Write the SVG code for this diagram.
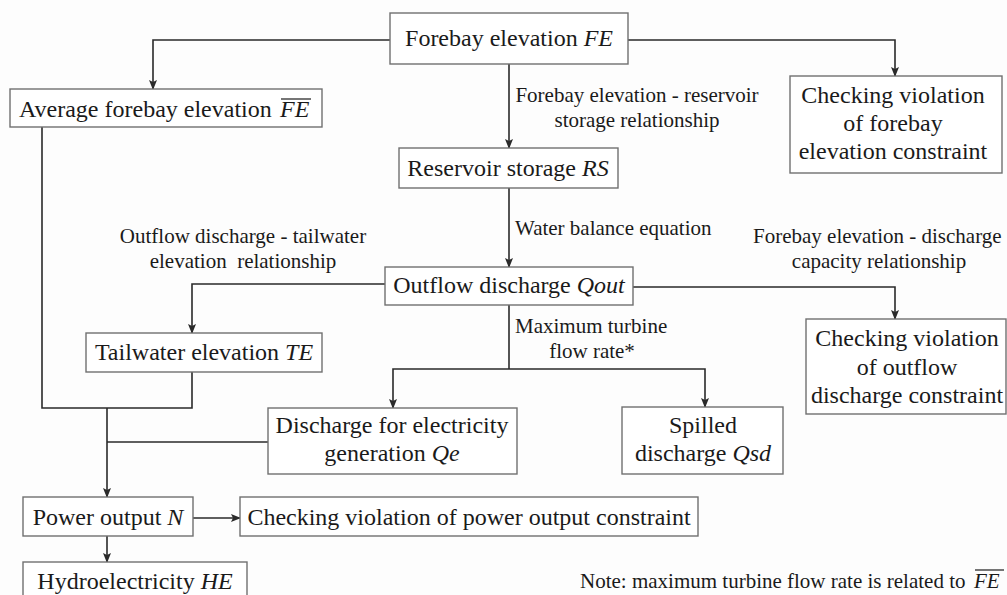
<svg xmlns="http://www.w3.org/2000/svg" width="1007" height="595" viewBox="0 0 1007 595">
<defs>
<marker id="ah" markerWidth="10" markerHeight="10" refX="9" refY="5" orient="auto" markerUnits="userSpaceOnUse">
<path d="M0,1 L10,5 L0,9 L2,5 z" fill="#2a2a2a"/>
</marker>
<style>
.box{fill:#fff;stroke:#707070;stroke-width:1.4}
.t{font-family:"Liberation Serif","Times New Roman",serif;font-size:24px;fill:#1a1a1a}
.l{font-family:"Liberation Serif","Times New Roman",serif;font-size:21px;fill:#1a1a1a}
.i{font-style:italic}
.c{stroke:#2a2a2a;stroke-width:1.6;fill:none}
.a{marker-end:url(#ah)}
.ob{stroke:#1a1a1a;stroke-width:1.2}
</style>
</defs>
<rect width="1007" height="595" fill="#fdfdfd"/>
<g id="connectors">
<polyline class="c a" points="390,40 153,40 153,89"/>
<polyline class="c a" points="628,40 895,40 895,76"/>
<line class="c a" x1="509" y1="64" x2="509" y2="148"/>
<line class="c a" x1="509" y1="188" x2="509" y2="267"/>
<polyline class="c a" points="385,284 192,284 192,333"/>
<polyline class="c a" points="633,287 895,287 895,319"/>
<line class="c" x1="509" y1="305" x2="509" y2="369"/>
<polyline class="c a" points="509,369 393,369 393,408"/>
<polyline class="c a" points="509,369 705,369 705,407"/>
<polyline class="c" points="42,127 42,408 192,408 192,372"/>
<line class="c a" x1="107" y1="408" x2="107" y2="497"/>
<line class="c" x1="268" y1="442" x2="107" y2="442"/>
<line class="c a" x1="193" y1="518" x2="240" y2="518"/>
<line class="c a" x1="107" y1="536" x2="107" y2="562"/>
</g>
<g id="labels">
<text class="l" x="637" y="102" text-anchor="middle">Forebay elevation - reservoir</text>
<text class="l" x="637" y="127" text-anchor="middle">storage relationship</text>
<text class="l" x="515" y="235">Water balance equation</text>
<text class="l" x="243" y="243" text-anchor="middle">Outflow discharge - tailwater</text>
<text class="l" x="243" y="268" text-anchor="middle" xml:space="preserve">elevation  relationship</text>
<text class="l" x="753" y="243">Forebay elevation - discharge</text>
<text class="l" x="879" y="268" text-anchor="middle">capacity relationship</text>
<text class="l" x="515" y="333">Maximum turbine</text>
<text class="l" x="592" y="358" text-anchor="middle">flow rate*</text>
<text class="l" x="580" y="588">Note: maximum turbine flow rate is related to</text>
<text class="l i" x="974" y="588">FE</text>
<line class="ob" x1="975" y1="570" x2="1004" y2="570"/>
</g>
<g id="n-fe">
<rect class="box" x="390" y="13" width="238" height="51"/>
<text class="t" x="509" y="46" text-anchor="middle">Forebay elevation <tspan class="i">FE</tspan></text>
</g>
<g id="n-avgfe">
<rect class="box" x="10" y="89" width="312" height="38"/>
<text class="t" x="19" y="117">Average forebay elevation</text>
<text class="t i" x="280" y="117">FE</text>
<line class="ob" x1="281" y1="99" x2="311" y2="99"/>
</g>
<g id="n-checkfe">
<rect class="box" x="790" y="76" width="212" height="97"/>
<text class="t" x="893" y="103" text-anchor="middle">Checking violation</text>
<text class="t" x="893" y="131" text-anchor="middle">of forebay</text>
<text class="t" x="893" y="159" text-anchor="middle">elevation constraint</text>
</g>
<g id="n-rs">
<rect class="box" x="399" y="148" width="219" height="40"/>
<text class="t" x="508" y="176" text-anchor="middle">Reservoir storage <tspan class="i">RS</tspan></text>
</g>
<g id="n-qout">
<rect class="box" x="385" y="267" width="248" height="38"/>
<text class="t" x="509" y="293" text-anchor="middle">Outflow discharge <tspan class="i">Qout</tspan></text>
</g>
<g id="n-te">
<rect class="box" x="86" y="333" width="236" height="39"/>
<text class="t" x="204" y="360" text-anchor="middle">Tailwater elevation <tspan class="i">TE</tspan></text>
</g>
<g id="n-checkq">
<rect class="box" x="806" y="319" width="200" height="95"/>
<text class="t" x="907" y="346" text-anchor="middle">Checking violation</text>
<text class="t" x="907" y="375" text-anchor="middle">of outflow</text>
<text class="t" x="907" y="403" text-anchor="middle">discharge constraint</text>
</g>
<g id="n-qe">
<rect class="box" x="268" y="408" width="249" height="66"/>
<text class="t" x="392" y="433" text-anchor="middle">Discharge for electricity</text>
<text class="t" x="392" y="461" text-anchor="middle">generation <tspan class="i">Qe</tspan></text>
</g>
<g id="n-qsd">
<rect class="box" x="622" y="407" width="161" height="67"/>
<text class="t" x="703" y="433" text-anchor="middle">Spilled</text>
<text class="t" x="703" y="461" text-anchor="middle">discharge <tspan class="i">Qsd</tspan></text>
</g>
<g id="n-n">
<rect class="box" x="23" y="497" width="170" height="39"/>
<text class="t" x="108" y="525" text-anchor="middle">Power output <tspan class="i">N</tspan></text>
</g>
<g id="n-checkn">
<rect class="box" x="240" y="497" width="458" height="39"/>
<text class="t" x="469" y="525" text-anchor="middle">Checking violation of power output constraint</text>
</g>
<g id="n-he">
<rect class="box" x="23" y="562" width="224" height="40"/>
<text class="t" x="135" y="589" text-anchor="middle">Hydroelectricity <tspan class="i">HE</tspan></text>
</g>
</svg>
